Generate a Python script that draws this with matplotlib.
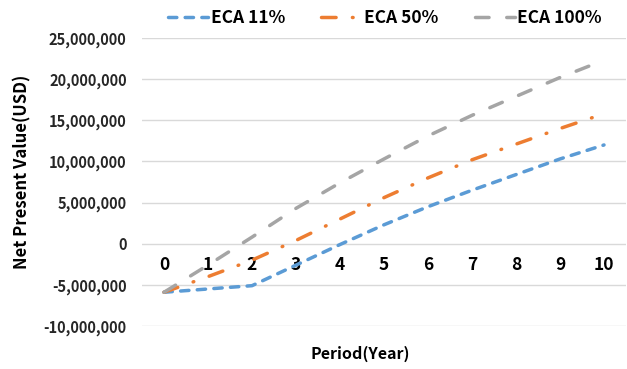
import matplotlib
matplotlib.use("Agg")
import matplotlib.pyplot as plt
from matplotlib.ticker import FuncFormatter

periods = list(range(11))
eca_11 = [-5.9e6, -5.5e6, -5.1e6, -2.6e6, -0.1e6, 2.3e6, 4.5e6, 6.5e6, 8.4e6, 10.3e6, 12.0e6]
eca_50 = [-5.9e6, -4.0e6, -2.0e6, 0.4e6, 3.0e6, 5.6e6, 8.0e6, 10.2e6, 12.1e6, 14.0e6, 15.8e6]
eca_100 = [-5.9e6, -2.6e6, 0.8e6, 4.3e6, 7.4e6, 10.3e6, 13.1e6, 15.6e6, 17.9e6, 20.2e6, 22.3e6]
series_labels = ["ECA 11%", "ECA 50%", "ECA 100%"]
y_ticks = [-10e6, -5e6, 0, 5e6, 10e6, 15e6, 20e6, 25e6]

FONT = ["Noto Sans CJK KR", "DejaVu Sans"]
plt.rcParams['font.family'] = FONT
plt.rcParams['font.weight'] = 'bold'

fig = plt.figure(figsize=(6.27, 3.69), dpi=100)
ax = fig.add_axes([142/627, 1-326/369, (626-142)/627, (326-38)/369])

lw = 2.5
l1, = ax.plot(periods, eca_11, color="#5B9BD5", lw=lw, dashes=(2.4, 2.4), dash_capstyle='round')
l2, = ax.plot(periods, eca_50, color="#ED7D31", lw=lw, dashes=(4.2, 4.7, 0.2, 4.7), dash_capstyle='round')
l3, = ax.plot(periods, eca_100, color="#A5A5A5", lw=lw, dashes=(3.9, 5.1), dash_capstyle='round')

ax.set_xlim(-0.5, 10.5)
ax.set_ylim(-10e6, 25e6)
ax.set_yticks(y_ticks)
ax.yaxis.set_major_formatter(FuncFormatter(lambda v, p: f"{int(v):,}"))
ax.set_xticks(periods)
ax.set_xticklabels([str(p) for p in periods])
ax.grid(axis='y', color="#D9D9D9", lw=1)
ax.set_axisbelow(True)
for s in ax.spines.values():
    s.set_visible(False)
ax.spines['bottom'].set_position(('data', 0))
ax.tick_params(axis='y', length=0, pad=11, labelsize=10.5, colors='#262626')
ax.tick_params(axis='x', length=0, pad=9, labelsize=12.5, colors='#000000')
for t in ax.get_xticklabels() + ax.get_yticklabels():
    t.set_fontweight('bold')

fig.text(360/627, 1-354/369, "Period(Year)", ha='center', va='center', fontsize=11.5, fontweight='bold')
fig.text(22/627, 1-172/369, "Net Present Value(USD)", ha='center', va='center', rotation=90, fontsize=12, fontweight='bold')

fig.legend([l1, l2, l3], series_labels, loc='center', bbox_to_anchor=(385/627, 1-18/369), ncol=3,
           frameon=False, handlelength=2.3, handletextpad=0.15, columnspacing=2.1,
           prop={'weight': 'bold', 'size': 12.5})

fig.savefig("out.png", dpi=100)
